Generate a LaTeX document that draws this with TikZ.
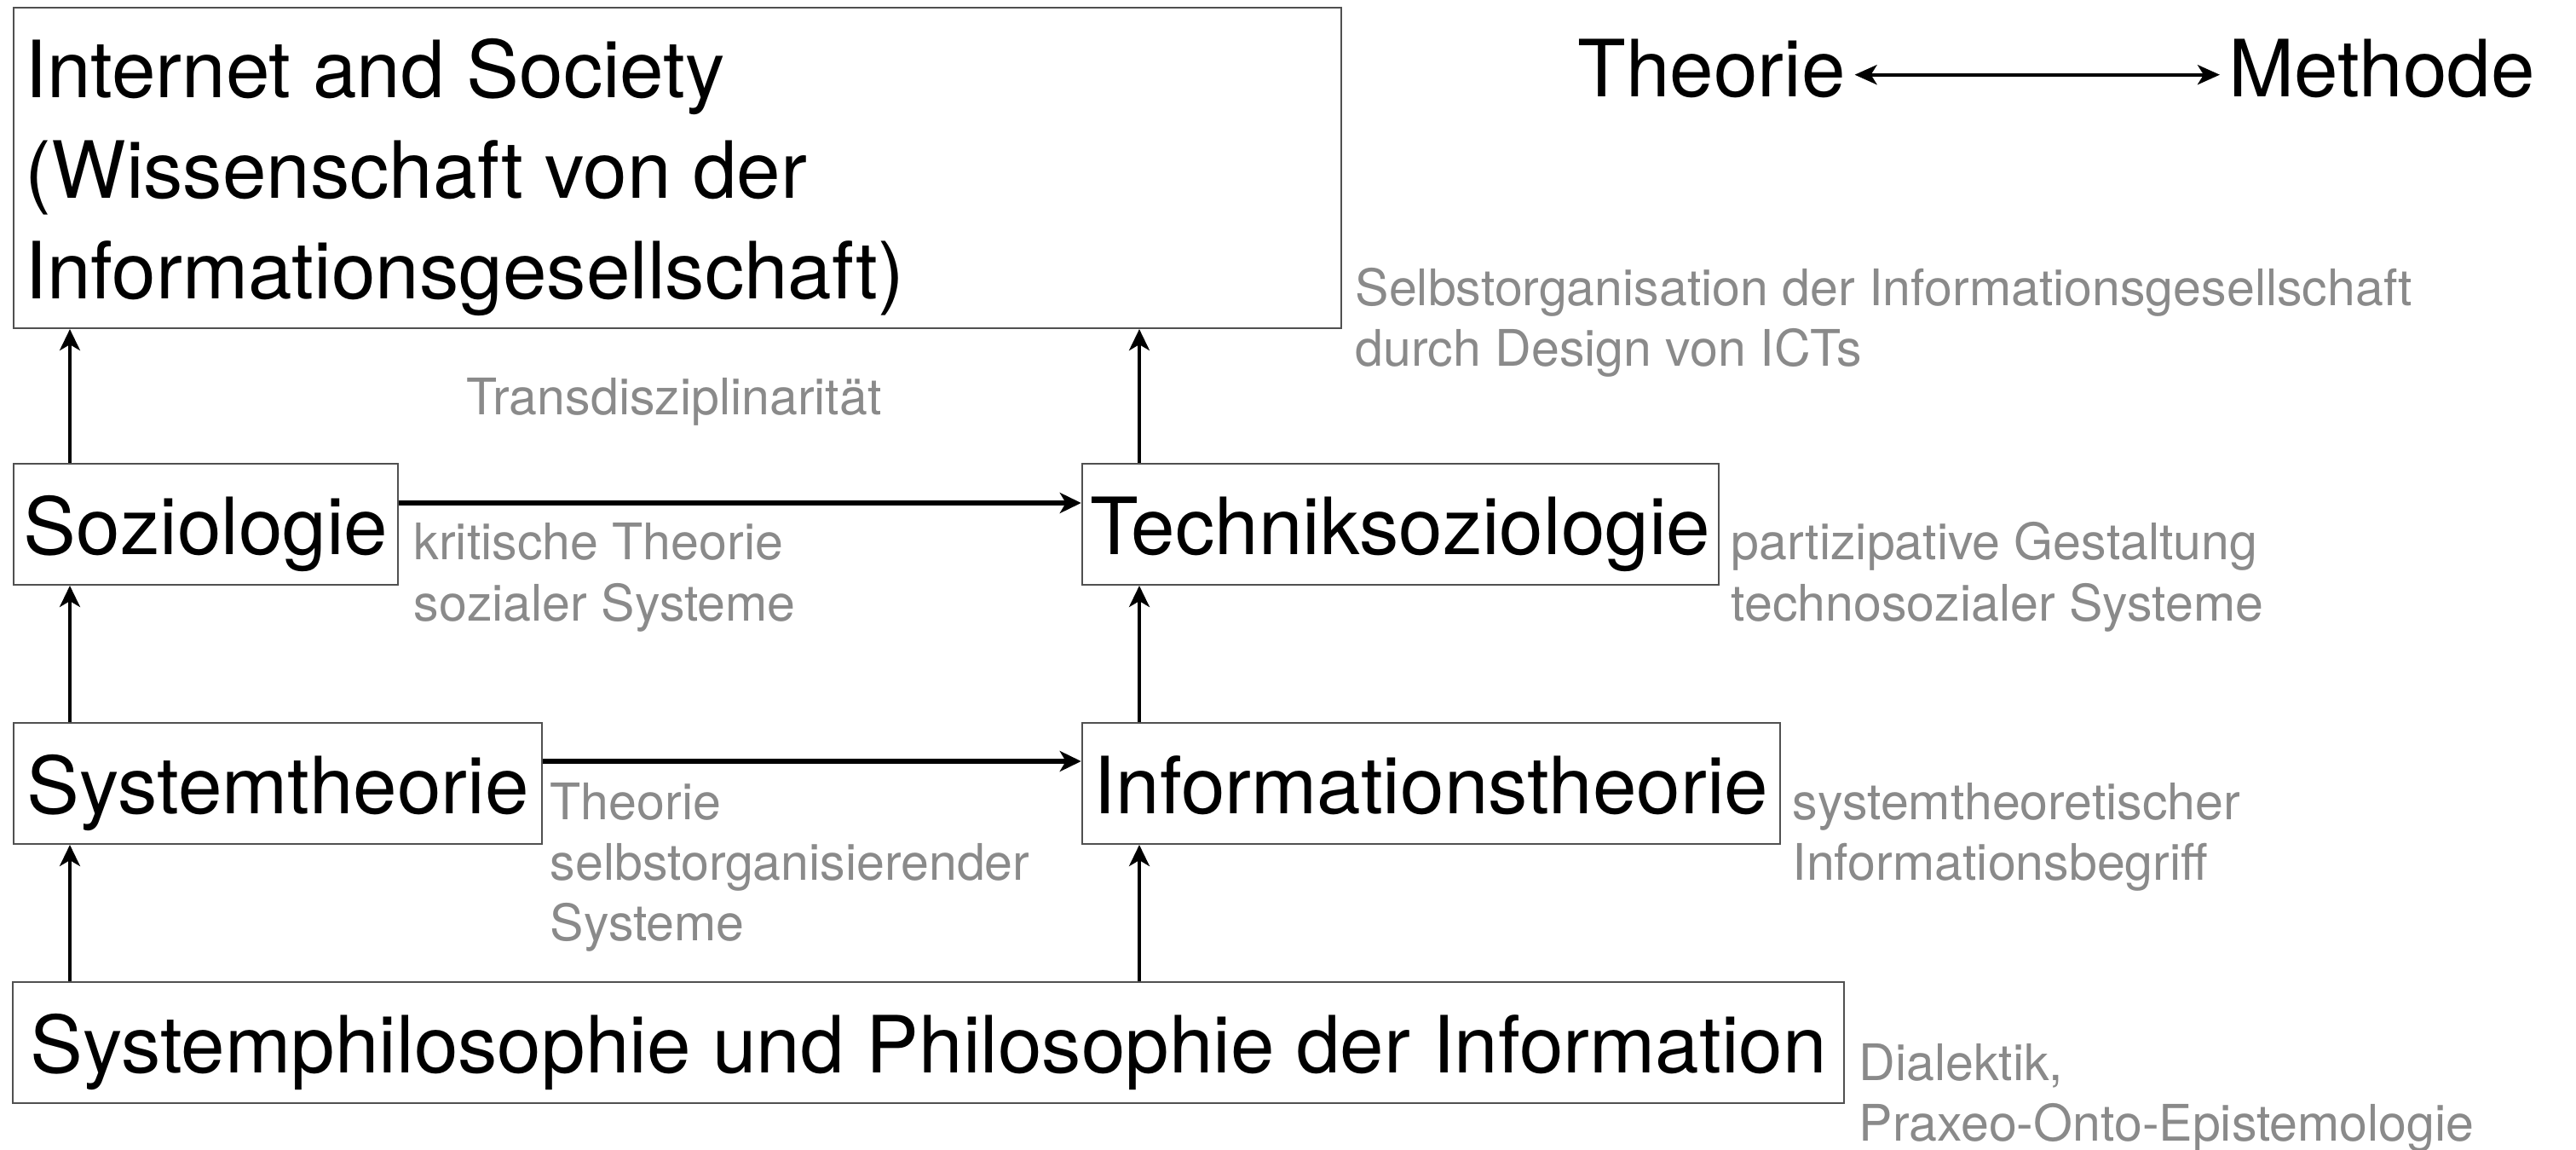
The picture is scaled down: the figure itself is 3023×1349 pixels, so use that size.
\documentclass[tikz,border=0pt]{standalone}
\usepackage{fontspec}
\setmainfont{TeX Gyre Heros}
\usetikzlibrary{arrows.meta}
\definecolor{notegray}{RGB}{138,138,138}
\definecolor{boxgray}{RGB}{80,80,80}
\newcommand\mylines[1]{\begin{tabular}[t]{@{}l@{}}#1\end{tabular}}
\newcommand\diagbig{\fontsize{26.35pt}{33.43pt}\selectfont}
\newcommand\diagnote{\fontsize{16.8pt}{20.3pt}\selectfont}
\begin{document}
\begin{tikzpicture}[x=0.01cm,y=-0.01cm,
  box/.style={draw=boxgray, line width=0.57pt, inner sep=0pt, minimum height=1.42cm,
    text height=0.70cm, text depth=0pt, font=\diagbig},
  bigbox/.style={draw=boxgray, line width=0.57pt, inner sep=0pt},
  bigtext/.style={anchor=base west, inner sep=0pt, font=\diagbig},
  note/.style={anchor=base west, inner sep=0pt, text=notegray, font=\diagnote},
  tip/.style={-{Stealth[length=0.25cm,width=0.24cm,inset=0.07cm]}},
  vconn/.style={tip, line width=0.04cm},
  hconn/.style={tip, line width=0.055cm},
  lrconn/.style={{Stealth[length=0.26cm,width=0.23cm,inset=0.07cm]}-{Stealth[length=0.26cm,width=0.23cm,inset=0.07cm]}, line width=0.043cm}
]
\useasboundingbox (0,0) rectangle (3023,1349);

% boxes
\node[bigbox, minimum width=15.58cm, minimum height=3.76cm] (is) at (795,197) {};
\node[bigtext] (istext) at (29,115) {\mylines{Internet and Society\\(Wissenschaft von der\\Informationsgesellschaft)}};
\node[box, minimum width=4.51cm] (soz) at (241.5,615) {Soziologie};
\node[box, minimum width=7.47cm] (tech) at (1643.5,615) {Techniksoziologie};
\node[box, minimum width=6.20cm] (sys) at (326,919) {Systemtheorie};
\node[box, minimum width=8.19cm] (info) at (1679.5,919) {Informationstheorie};
\node[box, minimum width=21.47cm] (phil) at (1089.5,1223) {Systemphilosophie und Philosophie der Information};

% Theorie <-> Methode
\node[bigtext] (theo) at (1851,114) {Theorie};
\node[bigtext] (meth) at (2615,114) {Methode};
\coordinate (rowT) at (0,87.7);
\draw[lrconn, shorten <=0.10cm, shorten >=0.10cm] (theo.east |- rowT) -- (meth.west |- rowT);

% columns and rows for connectors
\coordinate (colL) at (82,0);
\coordinate (colR) at (1337,0);
\coordinate (rowA) at (0,590);
\coordinate (rowB) at (0,893);

\draw[vconn] (soz.north -| colL) -- (is.south -| colL);
\draw[vconn] (sys.north -| colL) -- (soz.south -| colL);
\draw[vconn] (phil.north -| colL) -- (sys.south -| colL);
\draw[vconn] (tech.north -| colR) -- (is.south -| colR);
\draw[vconn] (info.north -| colR) -- (tech.south -| colR);
\draw[vconn] (phil.north -| colR) -- (info.south -| colR);

\draw[hconn] (soz.east |- rowA) -- (tech.west |- rowA);
\draw[hconn] (sys.east |- rowB) -- (info.west |- rowB);

% grey notes
\node[note] (trans) at (547,486.7) {Transdisziplinarität};
\node[note] (selbst) at (1590,358.3) {\mylines{Selbstorganisation der Informationsgesellschaft\\durch Design von ICTs}};
\node[note] (krit) at (485,656.7) {\mylines{kritische Theorie\\sozialer Systeme}};
\node[note] (partiz) at (2031,656.7) {\mylines{partizipative Gestaltung\\technosozialer Systeme}};
\node[note] (tsys) at (645,961) {\mylines{Theorie\\selbstorganisierender\\Systeme}};
\node[note] (sysinfo) at (2103,961) {\mylines{systemtheoretischer\\Informationsbegriff}};
\node[note] (dial) at (2181,1267.3) {\mylines{Dialektik,\\Praxeo-Onto-Epistemologie}};
\end{tikzpicture}
\end{document}
